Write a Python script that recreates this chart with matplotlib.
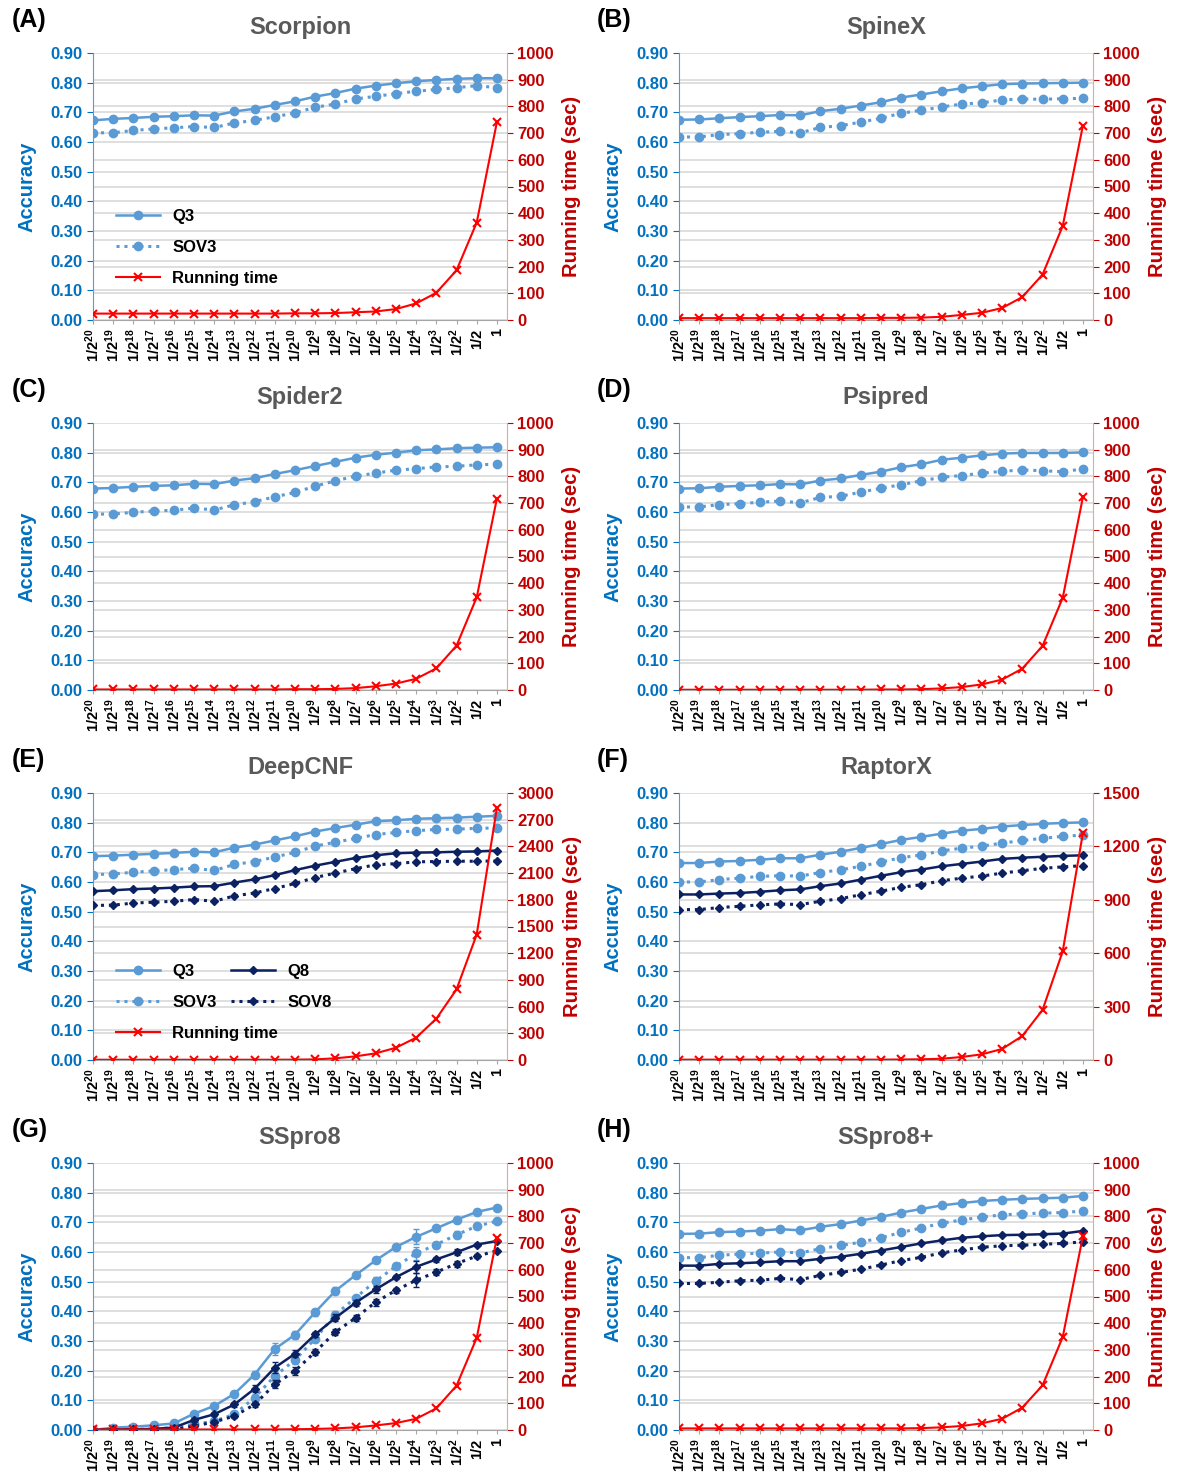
import numpy as np
import matplotlib.pyplot as plt

plt.rcParams['font.family'] = ['Liberation Sans', 'DejaVu Sans']
plt.rcParams['font.weight'] = 'bold'
plt.rcParams['mathtext.fontset'] = 'custom'
plt.rcParams['mathtext.rm'] = 'Liberation Sans:bold'
plt.rcParams['mathtext.it'] = 'Liberation Sans:bold'
plt.rcParams['mathtext.bf'] = 'Liberation Sans:bold'

# sampling fraction on the x axis
fractions = [r'1/2$^{%d}$' % k for k in range(20, 1, -1)] + ['1/2', '1']

# (A) Scorpion
scorpion_q3 = [0.673, 0.678, 0.681, 0.685, 0.687, 0.690, 0.689, 0.703, 0.712, 0.725, 0.737,
               0.753, 0.765, 0.780, 0.790, 0.798, 0.805, 0.809, 0.813, 0.815, 0.815]
scorpion_sov3 = [0.631, 0.631, 0.639, 0.644, 0.648, 0.652, 0.649, 0.664, 0.673, 0.685, 0.698,
                 0.717, 0.728, 0.745, 0.754, 0.763, 0.771, 0.777, 0.783, 0.790, 0.783]
scorpion_time = [24, 24, 24, 24, 24, 24, 24, 24, 24, 24, 25,
                 25, 26, 29, 32, 41, 62, 102, 186, 365, 741]

# (B) SpineX
spinex_q3 = [0.675, 0.676, 0.680, 0.684, 0.687, 0.691, 0.690, 0.704, 0.712, 0.723, 0.734,
             0.750, 0.760, 0.771, 0.781, 0.788, 0.795, 0.797, 0.798, 0.799, 0.800]
spinex_sov3 = [0.617, 0.617, 0.625, 0.628, 0.633, 0.636, 0.631, 0.649, 0.655, 0.667, 0.680,
               0.697, 0.707, 0.718, 0.728, 0.732, 0.742, 0.745, 0.744, 0.746, 0.747]
spinex_time = [7, 7, 7, 7, 7, 7, 7, 7, 7, 7, 8,
               8, 9, 12, 19, 27, 45, 86, 170, 352, 728]

# (C) Spider2
spider2_q3 = [0.679, 0.681, 0.685, 0.688, 0.690, 0.695, 0.694, 0.706, 0.714, 0.728, 0.741,
              0.755, 0.769, 0.783, 0.793, 0.800, 0.808, 0.811, 0.815, 0.817, 0.818]
spider2_sov3 = [0.593, 0.593, 0.599, 0.603, 0.606, 0.613, 0.607, 0.624, 0.635, 0.651, 0.666,
                0.687, 0.705, 0.721, 0.731, 0.741, 0.746, 0.752, 0.754, 0.759, 0.761]
spider2_time = [2, 2, 2, 2, 2, 2, 2, 2, 2, 2, 3,
                3, 4, 7, 14, 24, 42, 81, 166, 347, 717]

# (D) Psipred
psipred_q3 = [0.679, 0.680, 0.685, 0.688, 0.690, 0.694, 0.693, 0.706, 0.713, 0.725, 0.736,
              0.751, 0.761, 0.776, 0.783, 0.791, 0.797, 0.799, 0.799, 0.799, 0.801]
psipred_sov3 = [0.617, 0.617, 0.625, 0.628, 0.633, 0.637, 0.631, 0.649, 0.653, 0.667, 0.680,
                0.692, 0.705, 0.717, 0.723, 0.731, 0.737, 0.742, 0.739, 0.736, 0.745]
psipred_time = [1, 1, 1, 1, 1, 1, 1, 1, 1, 1, 2,
                2, 3, 6, 11, 21, 39, 80, 165, 345, 722]

# (E) DeepCNF
deepcnf_q3 = [0.687, 0.689, 0.692, 0.695, 0.698, 0.702, 0.700, 0.716, 0.726, 0.740, 0.754,
              0.770, 0.782, 0.793, 0.805, 0.808, 0.813, 0.815, 0.817, 0.820, 0.823]
deepcnf_sov3 = [0.625, 0.627, 0.633, 0.637, 0.642, 0.646, 0.639, 0.659, 0.669, 0.684, 0.700,
                0.721, 0.734, 0.747, 0.760, 0.767, 0.773, 0.777, 0.778, 0.781, 0.782]
deepcnf_q8 = [0.569, 0.572, 0.576, 0.578, 0.581, 0.585, 0.586, 0.598, 0.609, 0.623, 0.640,
              0.655, 0.668, 0.681, 0.690, 0.697, 0.699, 0.700, 0.702, 0.703, 0.706]
deepcnf_sov8 = [0.521, 0.522, 0.529, 0.532, 0.535, 0.541, 0.535, 0.553, 0.563, 0.578, 0.595,
                0.615, 0.630, 0.645, 0.658, 0.662, 0.668, 0.669, 0.670, 0.670, 0.671]
deepcnf_time = [3, 3, 3, 3, 3, 3, 3, 3, 3, 3, 4,
                7, 19, 41, 75, 138, 251, 464, 793, 1410, 2832]

# (F) RaptorX
raptorx_q3 = [0.664, 0.664, 0.669, 0.671, 0.675, 0.680, 0.680, 0.692, 0.702, 0.715, 0.728,
              0.742, 0.752, 0.763, 0.773, 0.779, 0.787, 0.792, 0.796, 0.799, 0.801]
raptorx_sov3 = [0.600, 0.600, 0.608, 0.613, 0.619, 0.621, 0.620, 0.632, 0.641, 0.653, 0.667,
                0.682, 0.691, 0.705, 0.714, 0.721, 0.731, 0.740, 0.747, 0.754, 0.758]
raptorx_q8 = [0.558, 0.558, 0.561, 0.563, 0.567, 0.572, 0.575, 0.586, 0.595, 0.608, 0.621,
              0.633, 0.642, 0.653, 0.661, 0.669, 0.678, 0.682, 0.685, 0.688, 0.690]
raptorx_sov8 = [0.507, 0.507, 0.514, 0.518, 0.523, 0.526, 0.524, 0.535, 0.544, 0.557, 0.569,
                0.582, 0.591, 0.604, 0.613, 0.620, 0.630, 0.638, 0.646, 0.651, 0.655]
raptorx_time = [2, 2, 2, 2, 2, 2, 2, 2, 2, 2, 2,
                3, 4, 7, 17, 32, 62, 135, 281, 610, 1275]

# (G) SSpro8, mean with spread over repeated samplings
sspro8_q3 = [0.000, 0.008, 0.011, 0.016, 0.022, 0.055, 0.081, 0.122, 0.187, 0.273, 0.321,
             0.397, 0.469, 0.522, 0.572, 0.617, 0.651, 0.680, 0.709, 0.735, 0.750]
sspro8_q3_err = [0.0, 0.002, 0.002, 0.004, 0.004, 0.006, 0.006, 0.008, 0.012, 0.020, 0.014,
                 0.012, 0.012, 0.010, 0.010, 0.006, 0.025, 0.008, 0.010, 0.006, 0.004]
sspro8_sov3 = [0.000, 0.000, 0.002, 0.004, 0.008, 0.019, 0.030, 0.053, 0.109, 0.182, 0.236,
               0.308, 0.389, 0.446, 0.502, 0.552, 0.595, 0.625, 0.658, 0.687, 0.704]
sspro8_sov3_err = [0.0, 0.0, 0.002, 0.003, 0.004, 0.006, 0.006, 0.010, 0.012, 0.018, 0.014,
                   0.012, 0.012, 0.010, 0.014, 0.008, 0.022, 0.010, 0.012, 0.006, 0.004]
sspro8_q8 = [0.000, 0.002, 0.002, 0.004, 0.008, 0.034, 0.053, 0.086, 0.139, 0.210, 0.257,
             0.322, 0.378, 0.429, 0.474, 0.515, 0.550, 0.575, 0.599, 0.625, 0.637]
sspro8_q8_err = [0.0, 0.002, 0.002, 0.003, 0.004, 0.006, 0.006, 0.008, 0.012, 0.018, 0.012,
                 0.010, 0.012, 0.010, 0.012, 0.006, 0.020, 0.008, 0.010, 0.006, 0.004]
sspro8_sov8 = [0.000, 0.000, 0.000, 0.001, 0.002, 0.013, 0.027, 0.047, 0.086, 0.154, 0.199,
               0.263, 0.330, 0.378, 0.431, 0.471, 0.505, 0.532, 0.561, 0.586, 0.604]
sspro8_sov8_err = [0.0, 0.0, 0.0, 0.002, 0.003, 0.005, 0.006, 0.008, 0.010, 0.014, 0.012,
                   0.010, 0.010, 0.010, 0.012, 0.008, 0.024, 0.010, 0.010, 0.006, 0.004]
sspro8_time = [2, 2, 2, 2, 2, 2, 2, 2, 2, 2, 3,
               4, 6, 10, 17, 26, 42, 81, 166, 345, 720]

# (H) SSpro8+
ssproplus_q3 = [0.661, 0.662, 0.667, 0.669, 0.672, 0.677, 0.673, 0.685, 0.694, 0.706, 0.718,
                0.733, 0.745, 0.757, 0.765, 0.772, 0.776, 0.779, 0.781, 0.783, 0.789]
ssproplus_sov3 = [0.581, 0.581, 0.589, 0.593, 0.596, 0.600, 0.597, 0.611, 0.622, 0.633, 0.648,
                  0.666, 0.681, 0.697, 0.708, 0.718, 0.725, 0.729, 0.731, 0.733, 0.738]
ssproplus_q8 = [0.554, 0.554, 0.560, 0.562, 0.565, 0.569, 0.569, 0.577, 0.584, 0.594, 0.605,
                0.617, 0.629, 0.639, 0.648, 0.653, 0.657, 0.658, 0.660, 0.662, 0.671]
ssproplus_sov8 = [0.494, 0.494, 0.498, 0.503, 0.505, 0.511, 0.507, 0.521, 0.531, 0.542, 0.556,
                  0.571, 0.582, 0.597, 0.607, 0.616, 0.621, 0.623, 0.626, 0.629, 0.634]
ssproplus_time = [6, 6, 6, 6, 6, 6, 6, 6, 6, 6, 6,
                  6, 7, 10, 15, 25, 42, 84, 167, 348, 726]

Q3_COLOR = '#5B9BD5'
Q8_COLOR = '#0B2161'
RT_COLOR = '#FF0000'
ACC_COLOR = '#0070C0'
SEC_COLOR = '#C00000'
GRID_COLOR = '#D9D9D9'
DOTTED = (0, (1, 1.6))

W, H = 1179, 1479
fig = plt.figure(figsize=(W / 100, H / 100), dpi=100)

LEGEND_KW = dict(frameon=False, fontsize=12, handlelength=2.6, labelspacing=0.95,
                 handletextpad=0.75, borderaxespad=0)


def panel(col, row, letter, title, q3, sov3, rt, rt_max, rt_step,
          q8=None, sov8=None, errs=None, legend_y=None):
    left = (93 if col == 0 else 679) / W
    top = 53 + row * 370
    ax = fig.add_axes([left, 1 - (top + 267) / H, 414 / W, 267 / H])
    x = np.arange(len(fractions))

    # accuracy grid plus the running-time grid mapped onto the same scale
    ax.set_ylim(0, 0.9)
    ax.set_xlim(0, len(fractions) - 0.5)
    ax.set_yticks(np.arange(0, 0.91, 0.1))
    ax.set_yticks(np.arange(rt_step, rt_max, rt_step) * 0.9 / rt_max, minor=True)
    ax.yaxis.set_major_formatter(plt.FormatStrFormatter('%.2f'))
    ax.grid(axis='y', which='both', color=GRID_COLOR, lw=1.2)
    ax.set_axisbelow(True)
    ax.tick_params(axis='y', which='minor', length=0)
    ax.tick_params(axis='y', which='major', colors=ACC_COLOR, labelsize=12, length=4)
    ax.tick_params(axis='x', length=3, color='#A6A6A6', labelsize=10.5, pad=3)
    ax.set_xticks(x)
    ax.set_xticklabels(fractions, rotation=90)
    for side in ('top', 'right'):
        ax.spines[side].set_visible(False)
    ax.spines['left'].set_color(Q3_COLOR)
    ax.spines['bottom'].set_color('#A6A6A6')
    ax.set_ylabel('Accuracy', color=ACC_COLOR, fontsize=14.5, fontweight='bold',
                  labelpad=10)

    errs = errs or {}
    series = [('Q3', q3, Q3_COLOR, '-', 'o'), ('SOV3', sov3, Q3_COLOR, DOTTED, 'o')]
    if q8 is not None:
        series += [('Q8', q8, Q8_COLOR, '-', 'D'), ('SOV8', sov8, Q8_COLOR, DOTTED, 'D')]
    handles = {}
    for name, vals, color, ls, mk in series:
        ms = 6 if mk == 'o' else 4.5
        h, = ax.plot(x, vals, color=color, ls=ls, lw=1.8 if ls == '-' else 2.2,
                     marker=mk, ms=ms, mec=color, mfc=color, label=name, zorder=3)
        if name in errs:
            ax.errorbar(x, vals, yerr=errs[name], fmt='none', ecolor=color,
                        elinewidth=1, capsize=2, zorder=3)
        handles[name] = h

    ax2 = ax.twinx()
    ax2.set_ylim(0, rt_max)
    ax2.set_yticks(np.arange(0, rt_max + 1, rt_step))
    h, = ax2.plot(x, rt, color=RT_COLOR, lw=1.5, marker='x', ms=6, mew=1.5,
                  label='Running time')
    handles['Running time'] = h
    ax2.tick_params(axis='y', colors=SEC_COLOR, labelsize=12, length=4)
    for side in ('top', 'left', 'bottom'):
        ax2.spines[side].set_visible(False)
    ax2.spines['right'].set_color('#F2A0A0')
    ax2.set_ylabel('Running time (sec)', color=SEC_COLOR, fontsize=14.5,
                   fontweight='bold', labelpad=6)

    ax.set_title(title, color='#595959', fontsize=17, fontweight='bold', pad=14)
    fig.text((12 if col == 0 else 597) / W, 1 - (top - 33) / H, '(%s)' % letter,
             fontsize=18, fontweight='bold', va='center', ha='left')

    if legend_y is not None:
        first = ['Q3', 'SOV3', 'Running time']
        leg = ax2.legend([handles[k] for k in first], first, loc='upper left',
                         bbox_to_anchor=(0.04, legend_y), **LEGEND_KW)
        if q8 is not None:
            ax2.add_artist(leg)
            second = ['Q8', 'SOV8']
            ax2.legend([handles[k] for k in second], second, loc='upper left',
                       bbox_to_anchor=(0.318, legend_y), **LEGEND_KW)


panel(0, 0, 'A', 'Scorpion', scorpion_q3, scorpion_sov3, scorpion_time, 1000, 100,
      legend_y=0.44)
panel(1, 0, 'B', 'SpineX', spinex_q3, spinex_sov3, spinex_time, 1000, 100)
panel(0, 1, 'C', 'Spider2', spider2_q3, spider2_sov3, spider2_time, 1000, 100)
panel(1, 1, 'D', 'Psipred', psipred_q3, psipred_sov3, psipred_time, 1000, 100)
panel(0, 2, 'E', 'DeepCNF', deepcnf_q3, deepcnf_sov3, deepcnf_time, 3000, 300,
      q8=deepcnf_q8, sov8=deepcnf_sov8, legend_y=0.385)
panel(1, 2, 'F', 'RaptorX', raptorx_q3, raptorx_sov3, raptorx_time, 1500, 300,
      q8=raptorx_q8, sov8=raptorx_sov8)
panel(0, 3, 'G', 'SSpro8', sspro8_q3, sspro8_sov3, sspro8_time, 1000, 100,
      q8=sspro8_q8, sov8=sspro8_sov8,
      errs={'Q3': sspro8_q3_err, 'SOV3': sspro8_sov3_err,
            'Q8': sspro8_q8_err, 'SOV8': sspro8_sov8_err})
panel(1, 3, 'H', 'SSpro8+', ssproplus_q3, ssproplus_sov3, ssproplus_time, 1000, 100,
      q8=ssproplus_q8, sov8=ssproplus_sov8)

fig.savefig('out.png', dpi=100)
